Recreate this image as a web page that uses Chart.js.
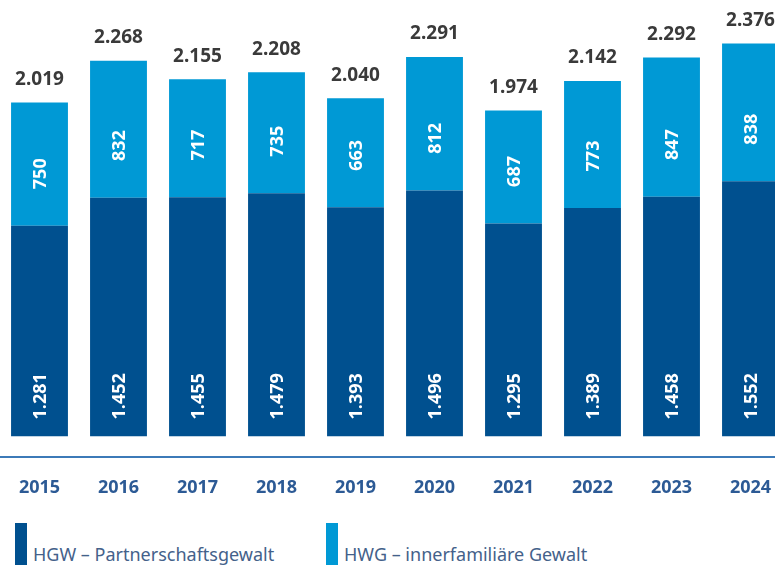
<!DOCTYPE html>
<html lang="de">
<head>
  <meta charset="UTF-8">
  <title>HGW und HWG 2015–2024</title>
  <script src="https://cdn.jsdelivr.net/npm/chart.js"></script>
  <style>
    html, body { margin: 0; padding: 0; overflow: hidden; background: #fff; }
    body { width: 775px; height: 568px; position: relative; font-family: "Noto Sans", sans-serif; }
    #wrap { position: absolute; left: 0; top: 0; width: 790px; height: 511px; }
    .legend { position: absolute; top: 523px; height: 42px; }
    .legend .box { position: absolute; left: 0; top: 0; width: 12px; height: 42px; }
    .legend .txt { position: absolute; left: 18px; top: 19px; white-space: nowrap;
      font-size: 18px; color: #44618a; }
  </style>
</head>
<body>
  <div id="wrap"><canvas id="chart"></canvas></div>

  <div class="legend" style="left:15px">
    <div class="box" style="background:#00508f"></div>
    <div class="txt">HGW – Partnerschaftsgewalt</div>
  </div>
  <div class="legend" style="left:326px">
    <div class="box" style="background:#0099d5"></div>
    <div class="txt">HWG – innerfamiliäre Gewalt</div>
  </div>

  <script>
    const years = ["2015", "2016", "2017", "2018", "2019", "2020", "2021", "2022", "2023", "2024"];
    const hgw = [1281, 1452, 1455, 1479, 1393, 1496, 1295, 1389, 1458, 1552];
    const hwg = [750, 832, 717, 735, 663, 812, 687, 773, 847, 838];
    const totals = [2019, 2268, 2155, 2208, 2040, 2291, 1974, 2142, 2292, 2376];

    const fmt = n => String(n).replace(/\B(?=(\d{3})+(?!\d))/g, ".");

    // labels inside the bars (rotated) and totals on top
    const barLabels = {
      id: "barLabels",
      afterDatasetsDraw(chart) {
        const ctx = chart.ctx;
        const m0 = chart.getDatasetMeta(0);
        const m1 = chart.getDatasetMeta(1);
        ctx.save();
        ctx.textAlign = "center";
        ctx.textBaseline = "middle";
        m0.data.forEach((bar, i) => {
          const b1 = m1.data[i];
          ctx.fillStyle = "#ffffff";
          ctx.font = "bold 18px 'Noto Sans', sans-serif";
          ctx.save();
          ctx.translate(bar.x, bar.base - 40);
          ctx.rotate(-Math.PI / 2);
          ctx.fillText(fmt(hgw[i]), 0, 1);
          ctx.restore();
          ctx.save();
          ctx.translate(b1.x, b1.base - 52);
          ctx.rotate(-Math.PI / 2);
          ctx.fillText(fmt(hwg[i]), 0, 1);
          ctx.restore();
          ctx.fillStyle = "#3a3a3a";
          ctx.font = "bold 19px 'Noto Sans', sans-serif";
          ctx.fillText(fmt(totals[i]), b1.x, b1.y - 23);
        });
        ctx.restore();
      }
    };

    new Chart(document.getElementById("chart"), {
      type: "bar",
      data: {
        labels: years,
        datasets: [
          { label: "HGW – Partnerschaftsgewalt", data: hgw, backgroundColor: "#00508f" },
          { label: "HWG – innerfamiliäre Gewalt", data: hwg, backgroundColor: "#0099d5" }
        ]
      },
      options: {
        responsive: true,
        maintainAspectRatio: false,
        animation: false,
        layout: { padding: 0 },
        datasets: { bar: { categoryPercentage: 0.72, barPercentage: 1 } },
        plugins: { legend: { display: false }, tooltip: { enabled: false } },
        scales: {
          x: {
            stacked: true,
            grid: { display: false },
            border: { display: true, color: "#3c7ab8", width: 2 },
            ticks: {
              color: "#2c5a95",
              padding: 12,
              font: { family: "'Noto Sans', sans-serif", size: 18, weight: "bold" }
            }
          },
          y: {
            stacked: true,
            display: false,
            min: -128,
            max: 2654
          }
        }
      },
      plugins: [barLabels]
    });
  </script>
</body>
</html>
